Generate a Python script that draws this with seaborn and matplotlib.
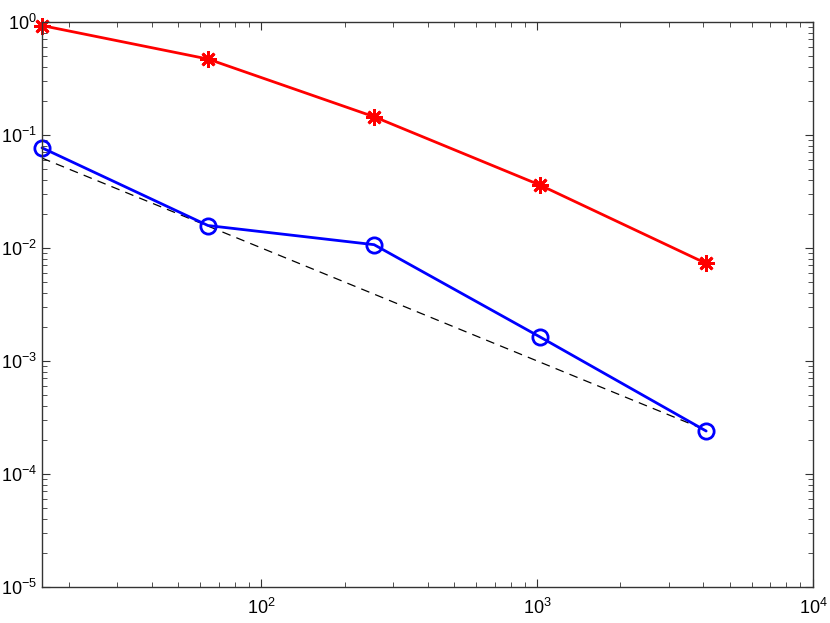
import numpy as np
import pandas as pd
import matplotlib
matplotlib.use('Agg')
import matplotlib.pyplot as plt
import seaborn as sns
from matplotlib.ticker import LogLocator

sns.set_style('ticks')
plt.rcParams['font.family'] = ['Liberation Sans', 'DejaVu Sans']
plt.rcParams['mathtext.default'] = 'regular'

# data
n = [16, 64, 256, 1024, 4096]
err_red = [0.93, 0.47, 0.145, 0.036, 0.0073]
err_blue = [0.077, 0.0158, 0.0107, 0.00163, 0.00024]
ref_n = [16, 4096]
ref_y = [0.0625, 0.000244]

fig = plt.figure(figsize=(8.3, 6.23), dpi=100)
ax = fig.add_axes([0.0506, 0.0578, 0.929, 0.9069])

sns.lineplot(x=ref_n, y=ref_y, ax=ax, color='black', lw=0.9,
             linestyle=(0, (7, 5)))
sns.lineplot(x=n, y=err_red, ax=ax, color='red', lw=2, marker=(8, 2, 0),
             markersize=12, markeredgewidth=2, markeredgecolor='red')
sns.lineplot(x=n, y=err_blue, ax=ax, color='blue', lw=2, marker='o',
             markersize=11, markeredgewidth=2, markerfacecolor='none',
             markeredgecolor='blue')
for ln in ax.lines:
    ln.set_clip_on(False)

ax.set_xscale('log')
ax.set_yscale('log')
ax.set_xlim(16, 1e4)
ax.set_ylim(1e-5, 1)
ax.set_xticks([1e2, 1e3, 1e4])
ax.set_yticks([1e-5, 1e-4, 1e-3, 1e-2, 1e-1, 1])
ax.xaxis.set_minor_locator(LogLocator(base=10, subs=np.arange(2, 10)))
ax.yaxis.set_minor_locator(LogLocator(base=10, subs=np.arange(2, 10)))
ax.tick_params(which='both', direction='in', top=True, right=True,
               labelsize=13, color='#333333', labelcolor='black')
ax.tick_params(which='major', length=6)
ax.tick_params(which='minor', length=3.5)
ax.tick_params(axis='x', which='major', pad=8)
for s in ax.spines.values():
    s.set_linewidth(1)
    s.set_color('#333333')
ax.set_xlabel('')
ax.set_ylabel('')

fig.savefig('out.png', dpi=100)
